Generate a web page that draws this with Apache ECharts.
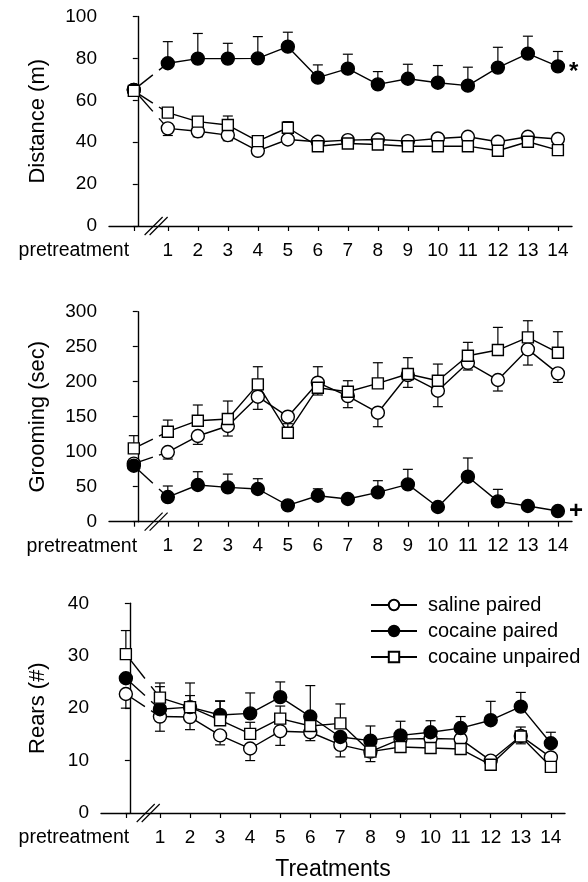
<!DOCTYPE html>
<html>
<head>
<meta charset="utf-8">
<script src="https://cdn.jsdelivr.net/npm/echarts@6/dist/echarts.min.js"></script>
<style>
html,body{margin:0;padding:0;background:#fff;}
#chart{width:588px;height:882px;}
</style>
</head>
<body>
<div id="chart"></div>
<script>
// ---------- data ----------
const xTickLabels = ['pretreatment','1','2','3','4','5','6','7','8','9','10','11','12','13','14'];
const PRE_X = -0.133;      // horizontal slot of the pretreatment session
const BREAK_X = 0.61;      // axis break mark between pretreatment and session 1
const seriesNames = ['saline paired','cocaine paired','cocaine unpaired'];

// Distance (m)
const distSaline    = [65, 46.6, 45.2, 43.4, 35.9, 41.3, 40.2, 41.0, 41.3, 40.5, 41.8, 42.6, 40.2, 42.6, 41.5];
const distCocaine   = [65, 77.7, 79.9, 79.9, 80.0, 85.6, 70.8, 75.1, 67.6, 70.3, 68.4, 67.0, 75.6, 82.3, 76.2];
const distUnpaired  = [64.5, 54.1, 49.8, 48.2, 40.5, 46.9, 38.1, 39.4, 38.9, 38.1, 38.1, 38.1, 35.9, 40.2, 36.2];
const distSalineErr   = [null, 43.2, 42.6, 40.7, null, null, null, null, null, null, null, null, null, null, null];
const distCocaineErr  = [null, 88.0, 91.9, 87.2, 90.4, 92.5, 76.9, 82.0, 73.7, 77.2, 76.6, 75.8, 85.3, 90.6, 83.3];
const distUnpairedErr = [66.8, null, 51.6, 52.5, null, 49.8, null, null, null, null, null, null, null, null, null];

// Grooming (sec)
const groomSaline    = [83, 99.5, 122.4, 136.7, 178.6, 150.0, 198.6, 179.5, 155.7, 209.5, 187.1, 227.0, 202.4, 246.2, 211.9];
const groomCocaine   = [80, 35.2, 52.4, 49.0, 46.7, 23.3, 37.1, 32.4, 41.9, 53.3, 21.0, 64.3, 29.0, 22.4, 15.2];
const groomUnpaired  = [104.8, 128.6, 144.3, 146.7, 196.2, 127.1, 191.4, 185.7, 197.6, 211.0, 201.4, 237.1, 245.2, 263.3, 241.4];
const groomSalineErr   = [null, 89.5, 110.5, 122.4, 160.5, 140.0, 181.0, 162.9, 135.7, 191.9, 164.3, 216.7, 186.7, 223.8, 199.0];
const groomCocaineErr  = [null, 51.0, 71.4, 68.0, 61.4, null, 47.0, null, 58.6, 74.8, null, 91.0, 46.2, null, null];
const groomUnpairedErr = [122.9, 145.2, 166.7, 172.4, 221.4, 147.0, 221.4, 201.4, 227.1, 234.3, 225.2, 256.2, 277.6, 287.1, 271.4];

// Rears (#)
const rearSaline    = [22.7, 18.4, 18.3, 14.8, 12.3, 15.6, 15.4, 13.0, 11.7, 14.1, 14.2, 14.1, 10.0, 14.7, 10.6];
const rearCocaine   = [25.7, 19.8, 20.2, 18.7, 19.0, 22.1, 18.4, 14.5, 13.8, 14.8, 15.4, 16.2, 17.7, 20.3, 13.3];
const rearUnpaired  = [30.3, 22.0, 20.2, 17.7, 15.1, 18.0, 16.6, 17.1, 11.7, 12.6, 12.4, 12.2, 9.2, 14.6, 8.8];
const rearSalineErr   = [20.0, 15.6, 15.9, 13.0, 10.0, 12.9, 13.8, 10.7, 9.8, null, null, null, null, 13.2, null];
const rearCocaineErr  = [null, 24.1, 22.4, 21.3, 22.9, 25.0, 24.3, null, 16.6, 17.5, 17.6, 18.4, 21.3, 23.0, 15.4];
const rearUnpairedErr = [34.8, 24.8, 24.8, 21.4, 17.3, 20.4, null, 20.8, null, null, null, null, null, 16.4, null];

// ---------- helpers ----------
const FONT = "'Liberation Sans', Arial, Helvetica, sans-serif";
const xTickPos = xTickLabels.map((l, i) => i === 0 ? PRE_X : Number(l));
const BLACK = '#000';
const LW = 1.4;

const panels = [
  { name: 'Distance (m)', max: 100, interval: 20, grid: {left: 109, right: 16, top: 16.5, height: 209.5}, nameGap: 60, prePad: 120,
    vals: [distSaline, distCocaine, distUnpaired], errs: [distSalineErr, distCocaineErr, distUnpairedErr],
    mark: {series: 1, text: '*', offset: [0, 6], size: 24} },
  { name: 'Grooming (sec)', max: 300, interval: 50, grid: {left: 109, right: 16, top: 311.7, height: 210}, nameGap: 60, prePad: 104,
    vals: [groomSaline, groomCocaine, groomUnpaired], errs: [groomSalineErr, groomCocaineErr, groomUnpairedErr],
    mark: {series: 1, text: '+', offset: [0, 0], size: 24} },
  { name: 'Rears (#)', max: 40, interval: 10, grid: {left: 101, right: 23, top: 603.3, height: 210}, nameGap: 52, prePad: 104,
    vals: [rearSaline, rearCocaine, rearUnpaired], errs: [rearSalineErr, rearCocaineErr, rearUnpairedErr],
    xName: 'Treatments' }
];

const symbols = [
  {symbol: 'circle', size: 13, fill: '#fff'},
  {symbol: 'circle', size: 13, fill: '#000'},
  {symbol: 'rect', size: 11, fill: '#fff'}
];

function errRender(params, api) {
  const x = api.value(0), v = api.value(1), e = api.value(2);
  const p0 = api.coord([x, v]), p1 = api.coord([x, e]);
  const hw = 5;
  return {type: 'group', children: [
    {type: 'line', shape: {x1: p0[0], y1: p0[1], x2: p1[0], y2: p1[1]}, style: {stroke: BLACK, lineWidth: 1.2}},
    {type: 'line', shape: {x1: p1[0] - hw, y1: p1[1], x2: p1[0] + hw, y2: p1[1]}, style: {stroke: BLACK, lineWidth: 1.2}}
  ]};
}
function connRender(params, api) {
  const a = api.coord([api.value(0), api.value(1)]);
  const b = api.coord([api.value(2), api.value(3)]);
  const pt = t => [a[0] + (b[0] - a[0]) * t, a[1] + (b[1] - a[1]) * t];
  const s1 = pt(0), e1 = pt(0.56), s2 = pt(0.74), e2 = pt(1);
  return {type: 'group', children: [
    {type: 'line', shape: {x1: s1[0], y1: s1[1], x2: e1[0], y2: e1[1]}, style: {stroke: BLACK, lineWidth: LW}},
    {type: 'line', shape: {x1: s2[0], y1: s2[1], x2: e2[0], y2: e2[1]}, style: {stroke: BLACK, lineWidth: LW}}
  ]};
}
function breakRender(params, api) {
  const c = api.coord([api.value(0), api.value(1)]);
  const h = 9;
  return {type: 'group', children: [-2.5, 2.5].map(dx => ({
    type: 'line', shape: {x1: c[0] + dx - h, y1: c[1] + h, x2: c[0] + dx + h, y2: c[1] - h},
    style: {stroke: BLACK, lineWidth: 1.2}
  }))};
}

const grids = [], xAxes = [], yAxes = [], series = [];
panels.forEach((p, gi) => {
  grids.push(Object.assign({containLabel: false}, p.grid));
  xAxes.push({
    type: 'value', gridIndex: gi, min: -0.96, max: 14.47,
    name: p.xName || '', nameLocation: 'middle', nameGap: 45,
    nameTextStyle: {fontSize: 23, color: BLACK, fontFamily: FONT},
    axisLine: {show: true, onZero: false, lineStyle: {color: BLACK, width: LW}},
    axisTick: {show: true, customValues: xTickPos, length: 5, lineStyle: {color: BLACK, width: 1.2}},
    axisLabel: {
      show: true, customValues: xTickPos, color: BLACK, fontSize: 19, fontFamily: FONT, margin: 15,
      formatter: v => {
        let best = 0;
        xTickPos.forEach((t, i) => { if (Math.abs(t - v) < Math.abs(xTickPos[best] - v)) best = i; });
        return best === 0 ? '{pre|' + xTickLabels[0] + '}' : xTickLabels[best];
      },
      rich: {pre: {fontSize: 19.5, color: BLACK, fontFamily: FONT, padding: [0, p.prePad, 0, 0]}}
    },
    splitLine: {show: false}
  });
  yAxes.push({
    type: 'value', gridIndex: gi, min: 0, max: p.max, interval: p.interval,
    name: p.name, nameLocation: 'middle', nameGap: p.nameGap,
    nameTextStyle: {fontSize: 22, color: BLACK, fontFamily: FONT},
    axisLine: {show: true, lineStyle: {color: BLACK, width: LW}},
    axisTick: {show: true, length: 5, lineStyle: {color: BLACK, width: 1.2}},
    axisLabel: {color: BLACK, fontSize: 19, fontFamily: FONT, margin: 12},
    splitLine: {show: false}
  });

  // axis break
  series.push({type: 'custom', name: 'break' + gi, xAxisIndex: gi, yAxisIndex: gi, renderItem: breakRender,
    data: [[BREAK_X, 0]], clip: false, silent: true, z: 1});

  p.vals.forEach((vals, si) => {
    const errs = p.errs[si];
    const errData = [];
    vals.forEach((v, i) => { if (errs[i] != null) errData.push([xTickPos[i], v, errs[i]]); });
    series.push({type: 'custom', name: 'err' + gi + '_' + si, xAxisIndex: gi, yAxisIndex: gi,
      renderItem: errRender, data: errData, clip: false, silent: true, z: 1});
    series.push({type: 'custom', name: 'conn' + gi + '_' + si, xAxisIndex: gi, yAxisIndex: gi,
      renderItem: connRender, data: [[xTickPos[0], vals[0], xTickPos[1], vals[1]]], clip: false, silent: true, z: 1});
    const data = [];
    vals.forEach((v, i) => {
      if (i === 1) data.push([BREAK_X, '-']);
      const item = {value: [xTickPos[i], v]};
      if (p.mark && p.mark.series === si && i === vals.length - 1) {
        item.label = {show: true, position: 'right', distance: 4, formatter: p.mark.text,
          fontSize: p.mark.size, fontWeight: 'bold', color: BLACK, fontFamily: FONT, offset: p.mark.offset};
      }
      data.push(item);
    });
    const sym = symbols[si];
    series.push({
      type: 'line', name: seriesNames[si], xAxisIndex: gi, yAxisIndex: gi, data: data,
      connectNulls: false, showSymbol: true, showAllSymbol: true,
      symbol: sym.symbol, symbolSize: sym.size,
      lineStyle: {color: BLACK, width: LW},
      itemStyle: {color: sym.fill, borderColor: BLACK, borderWidth: LW},
      emphasis: {disabled: true}, z: 2 + si * 0.01, silent: true
    });
  });
});

const chart = echarts.init(document.getElementById('chart'), null, {renderer: 'canvas'});
chart.setOption({
  animation: false,
  backgroundColor: '#fff',
  textStyle: {fontFamily: FONT, color: BLACK},
  grid: grids, xAxis: xAxes, yAxis: yAxes, series: series,
  legend: {
    data: seriesNames, orient: 'vertical', left: 365, top: 590,
    itemWidth: 46, itemHeight: 13, itemGap: 6, selectedMode: false,
    textStyle: {fontSize: 20, color: BLACK, fontFamily: FONT, padding: [0, 0, 0, 6]}
  }
});
</script>
</body>
</html>
